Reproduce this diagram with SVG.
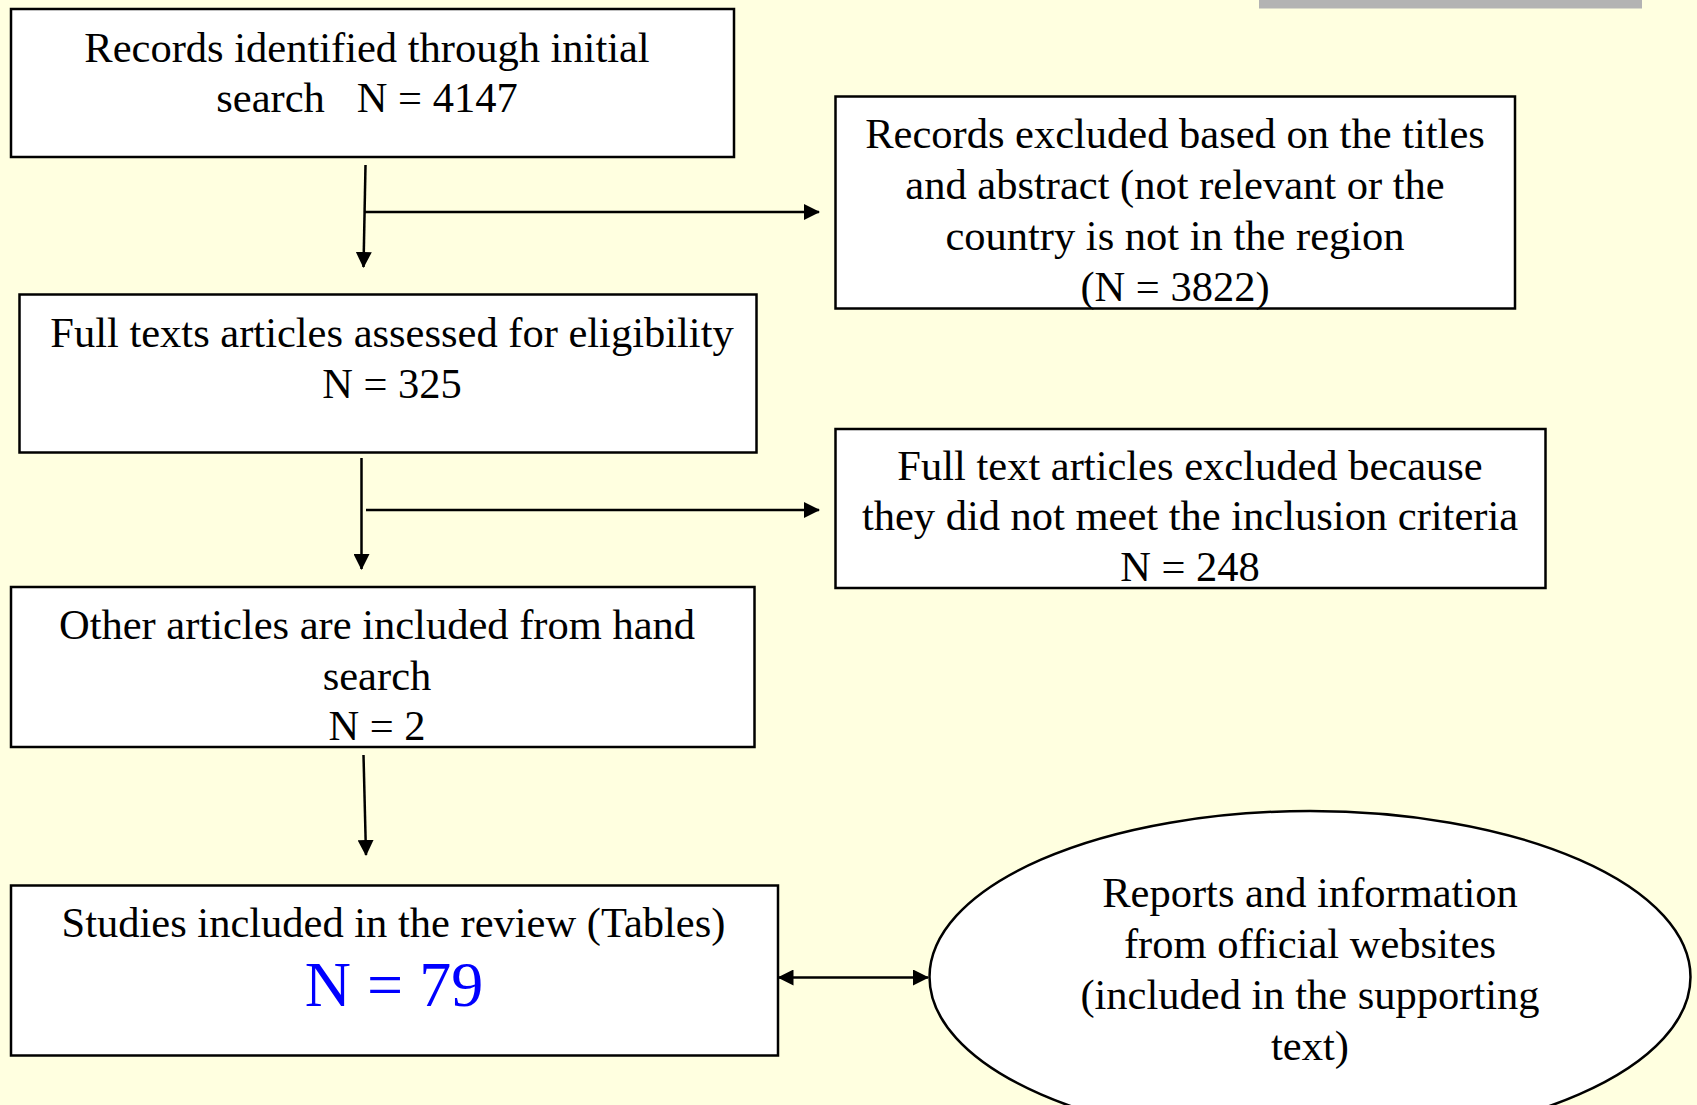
<svg xmlns="http://www.w3.org/2000/svg" width="1697" height="1105" viewBox="0 0 1697 1105">
<style>
.box{fill:#ffffff;stroke:#000000;stroke-width:2.5}
.t{font-family:"Liberation Serif","Times New Roman",serif;font-size:42.5px;fill:#000000;text-anchor:middle;white-space:pre}
.big{font-family:"Liberation Serif","Times New Roman",serif;font-size:64px;fill:#0000ff;text-anchor:middle}
.ln{fill:none;stroke:#000000;stroke-width:2.5}
</style>
<defs>
<marker id="ah" markerUnits="userSpaceOnUse" markerWidth="16" markerHeight="16" viewBox="0 0 16 16" refX="15" refY="8" orient="auto-start-reverse">
<path d="M0,0 L16,8 L0,16 z" fill="#000000"/>
</marker>
</defs>
<rect x="0" y="0" width="1697" height="1105" fill="#ffffe0"/>
<rect x="1259" y="0" width="383" height="8.5" fill="#b3b3b3"/>
<g id="n1">
<rect class="box" x="11" y="9" width="723" height="148"/>
<text class="t" x="367" y="62">Records identified through initial</text>
<text class="t" x="367" y="112">search   N = 4147</text>
</g>
<g id="n2">
<rect class="box" x="19.5" y="294.5" width="737" height="158"/>
<text class="t" x="392" y="347">Full texts articles assessed for eligibility</text>
<text class="t" x="392" y="398">N = 325</text>
</g>
<g id="n3">
<rect class="box" x="11" y="587" width="743.5" height="160"/>
<text class="t" x="377" y="639">Other articles are included from hand</text>
<text class="t" x="377" y="689.5">search</text>
<text class="t" x="377" y="740">N = 2</text>
</g>
<g id="n4">
<rect class="box" x="11" y="885.5" width="767" height="170"/>
<text class="t" x="393.5" y="937">Studies included in the review (Tables)</text>
<text class="big" x="394" y="1006">N = 79</text>
</g>
<g id="n5">
<rect class="box" x="835.5" y="96.5" width="679.5" height="212"/>
<text class="t" x="1175" y="148">Records excluded based on the titles</text>
<text class="t" x="1175" y="199">and abstract (not relevant or the</text>
<text class="t" x="1175" y="250">country is not in the region</text>
<text class="t" x="1175" y="301">(N = 3822)</text>
</g>
<g id="n6">
<rect class="box" x="835.5" y="429" width="710" height="159"/>
<text class="t" x="1190" y="480">Full text articles excluded because</text>
<text class="t" x="1190" y="530">they did not meet the inclusion criteria</text>
<text class="t" x="1190" y="581">N = 248</text>
</g>
<g id="n7">
<ellipse class="box" cx="1310" cy="977" rx="380.5" ry="166"/>
<text class="t" x="1310" y="907">Reports and information</text>
<text class="t" x="1310" y="958">from official websites</text>
<text class="t" x="1310" y="1009">(included in the supporting</text>
<text class="t" x="1310" y="1060">text)</text>
</g>
<g id="connectors">
<line class="ln" x1="365.5" y1="165" x2="363.5" y2="267" marker-end="url(#ah)"/>
<line class="ln" x1="365" y1="212" x2="819" y2="212" marker-end="url(#ah)"/>
<line class="ln" x1="361.5" y1="458" x2="361.5" y2="569" marker-end="url(#ah)"/>
<line class="ln" x1="366" y1="510" x2="819" y2="510" marker-end="url(#ah)"/>
<line class="ln" x1="363.5" y1="755" x2="366" y2="855" marker-end="url(#ah)"/>
<line class="ln" x1="778.5" y1="977.5" x2="928" y2="977.5" marker-start="url(#ah)" marker-end="url(#ah)"/>
</g>
</svg>
